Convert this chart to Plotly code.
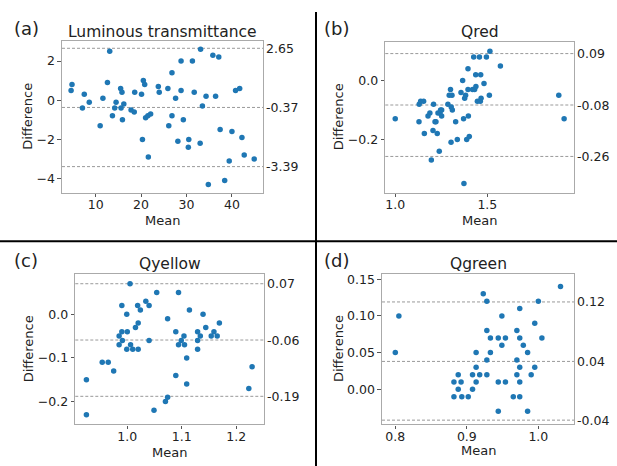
import plotly.graph_objects as go

W, H = 617, 466

# ---------------- data ----------------
a_mean = [4.6, 4.8, 7.1, 7.5, 8.6, 11.0, 11.6, 12.6, 13.1, 13.7, 14.2, 14.5, 15.5, 15.6, 15.8, 15.9, 16.2, 17.8, 18.5, 18.6,
          20.1, 20.3, 20.5, 20.8, 21.0, 21.5, 21.6, 22.1, 23.8, 24.0, 25.9, 26.1, 26.8, 26.8, 27.6, 28.1, 28.8, 28.8, 29.3, 30.4,
          30.5, 31.3, 31.7, 33.0, 33.1, 33.5, 34.3, 34.8, 35.8, 36.4, 37.1, 37.4, 38.4, 39.4, 40.0, 40.8, 41.7, 42.2, 42.7, 44.9]
a_diff = [0.5, 0.8, -0.4, 0.3, -0.1, -1.3, 0.1, 0.9, 2.5, -0.8, -0.4, -0.1, 0.6, -0.4, 0.4, -1.0, -0.2, -0.5, -0.6, 0.4,
          0.3, -2.0, 1.0, 0.8, -0.9, -0.8, -2.9, -0.7, 0.7, 0.4, 0.6, -1.3, 1.4, -0.8, 0.1, -2.1, 2.0, 0.5, -1.0, -2.4,
          -2.0, 2.0, 0.4, -2.2, 2.6, -0.3, 0.2, -4.3, 2.3, 0.2, 2.2, -1.5, -4.1, -3.1, -1.6, 0.5, 0.6, -1.9, -2.8, -3.0]
a_lines = [2.65, -0.37, -3.39]
a_labels = ["2.65", "-0.37", "-3.39"]

b_mean = [1.0, 1.129, 1.13, 1.138, 1.154, 1.158, 1.178, 1.188, 1.196, 1.205, 1.208, 1.216, 1.221, 1.228, 1.232, 1.239, 1.243,
          1.246, 1.252, 1.252, 1.286, 1.293, 1.3, 1.303, 1.308, 1.304, 1.31, 1.328, 1.337, 1.357, 1.366, 1.371, 1.377, 1.373,
          1.382, 1.388, 1.395, 1.395, 1.397, 1.402, 1.42, 1.426, 1.431, 1.437, 1.438, 1.446, 1.457, 1.462, 1.464, 1.466,
          1.482, 1.495, 1.511, 1.514, 1.571, 1.888, 1.917]
b_diff = [-0.13, -0.14, -0.08, -0.07, -0.07, -0.18, -0.12, -0.11, -0.27, -0.17, -0.08, -0.14, -0.14, -0.18, -0.11, -0.24, -0.11,
          -0.10, -0.12, -0.10, -0.08, -0.05, -0.03, -0.21, -0.05, -0.09, -0.10, -0.14, -0.20, -0.04, 0.0, -0.13, -0.06, -0.35,
          -0.05, -0.20, 0.04, -0.03, -0.12, -0.19, -0.03, 0.08, -0.03, 0.02, -0.02, -0.07, 0.08, -0.07, 0.02, -0.06,
          -0.01, 0.08, -0.05, 0.10, 0.05, -0.05, -0.13]
b_lines = [0.092, -0.083, -0.258]
b_labels = ["0.09", "-0.08", "-0.26"]

c_mean = [0.925, 0.925, 0.954, 0.965, 0.975, 0.985, 0.985, 0.99, 0.99, 0.991, 0.999, 1.0, 0.999, 1.005, 1.006, 1.01, 1.015,
          1.019, 1.02, 1.02, 1.024, 1.034, 1.04, 1.04, 1.049, 1.054, 1.07, 1.074, 1.074, 1.089, 1.089, 1.094, 1.094, 1.099,
          1.104, 1.105, 1.109, 1.109, 1.114, 1.129, 1.129, 1.129, 1.134, 1.139, 1.144, 1.154, 1.159, 1.165, 1.169, 1.223, 1.229]
c_diff = [-0.15, -0.23, -0.11, -0.11, -0.13, -0.05, -0.07, 0.02, -0.04, -0.06, 0.0, -0.04, -0.08, 0.07, -0.07, -0.08, -0.03,
          0.02, -0.02, -0.08, 0.01, 0.03, 0.02, -0.06, -0.22, 0.05, -0.20, -0.19, -0.01, -0.04, -0.14, -0.07, 0.05, -0.06,
          -0.05, -0.07, -0.10, -0.16, 0.01, -0.04, -0.06, -0.08, -0.05, 0.0, -0.03, -0.05, -0.04, -0.05, -0.02, -0.17, -0.12]
c_lines = [0.070, -0.059, -0.188]
c_labels = ["0.07", "-0.06", "-0.19"]

d_mean = [0.8, 0.805, 0.882, 0.882, 0.888, 0.888, 0.892, 0.893, 0.902, 0.908, 0.908, 0.913, 0.913, 0.913, 0.918, 0.923,
          0.928, 0.928, 0.928, 0.928, 0.933, 0.933, 0.944, 0.944, 0.944, 0.949, 0.949, 0.954, 0.954, 0.965, 0.97, 0.97,
          0.97, 0.974, 0.974, 0.974, 0.974, 0.974, 0.979, 0.985, 0.985, 0.99, 0.995, 0.995, 1.0, 1.005, 1.031]
d_diff = [0.05, 0.10, 0.01, -0.01, 0.02, 0.0, 0.01, -0.01, -0.01, 0.02, 0.0, 0.05, 0.03, 0.01, 0.02, 0.13, 0.08, 0.12, 0.04,
          0.02, 0.07, 0.05, 0.07, 0.01, -0.03, 0.10, 0.06, 0.07, 0.01, -0.01, 0.08, 0.04, 0.02, 0.11, 0.07, 0.03, 0.01,
          -0.01, 0.06, 0.05, -0.03, 0.02, 0.09, 0.03, 0.12, 0.07, 0.14]
d_lines = [0.119, 0.038, -0.042]
d_labels = ["0.12", "0.04", "-0.04"]

titles = ["Luminous transmittance", "Qred", "Qyellow", "Qgreen"]
panel_tags = ["(a)", "(b)", "(c)", "(d)"]

# ---------------- layout helpers (pixel boxes) ----------------
FONT = "DejaVu Sans"
TXT = "#222222"
FRAME = "#aaaaaa"

def px_x(x):
    return x / W

def px_y(y):
    return 1 - y / H

panels = [
    dict(mean=a_mean, diff=a_diff, lines=a_lines, labels=a_labels,
         box=(62, 263.3, 39, 191.7), xr=[2.6, 46.9], yr=[-4.73, 3.03],
         xt=[10, 20, 30, 40], yt=[-4, -2, 0, 2], xf="d", yf="d",
         tag=(12.5, 26.5), ytitle_x=28, mean_y=219, title_y=30),
    dict(mean=b_mean, diff=b_diff, lines=b_lines, labels=b_labels,
         box=(385.3, 573.7, 40, 191.7), xr=[0.946, 1.969], yr=[-0.382, 0.132],
         xt=[1.0, 1.5], yt=[-0.2, 0.0], xf=".1f", yf=".1f",
         tag=(323, 26.5), ytitle_x=338, mean_y=219, title_y=30),
    dict(mean=c_mean, diff=c_diff, lines=c_lines, labels=c_labels,
         box=(75.3, 264.3, 273.3, 424.3), xr=[0.9046, 1.2514], yr=[-0.2525, 0.092],
         xt=[1.0, 1.1, 1.2], yt=[-0.2, -0.1, 0.0], xf=".1f", yf=".1f",
         tag=(12.5, 259.5), ytitle_x=28, mean_y=452, title_y=263),
    dict(mean=d_mean, diff=d_diff, lines=d_lines, labels=d_labels,
         box=(382, 574.3, 272.7, 424.3), xr=[0.7814, 1.0503], yr=[-0.0479, 0.1577],
         xt=[0.8, 0.9, 1.0], yt=[0.0, 0.05, 0.10, 0.15], xf=".1f", yf=".2f",
         tag=(323, 259.5), ytitle_x=338, mean_y=450.5, title_y=263),
]

fig = go.Figure()
layout = dict(
    width=W, height=H, margin=dict(l=0, r=0, t=0, b=0),
    paper_bgcolor="white", plot_bgcolor="white", showlegend=False,
    font=dict(family=FONT, size=12, color=TXT),
)
shapes = []
annotations = []

for i, p in enumerate(panels):
    n = "" if i == 0 else str(i + 1)
    xa, ya = "x" + n, "y" + n
    l, r, t, b = p["box"]
    fig.add_trace(go.Scatter(
        x=p["mean"], y=p["diff"], mode="markers", xaxis=xa, yaxis=ya,
        marker=dict(color="#1f77b4", size=5.5, line=dict(width=0)),
        hoverinfo="skip"))
    axis_common = dict(showgrid=False, zeroline=False, showline=True, linecolor=FRAME,
                       linewidth=1.2, mirror=True, ticks="outside", ticklen=3.5,
                       tickcolor="#555555", tickwidth=1, tickfont=dict(size=12.5, color=TXT))
    layout["xaxis" + n] = dict(axis_common, domain=[px_x(l), px_x(r)], range=p["xr"],
                               anchor=ya, tickvals=p["xt"], tickformat=p["xf"],
                               ticklabelstandoff=-3)
    layout["yaxis" + n] = dict(axis_common, domain=[px_y(b), px_y(t)], range=p["yr"],
                               anchor=xa, tickvals=p["yt"], tickformat=p["yf"])
    for val, lab in zip(p["lines"], p["labels"]):
        shapes.append(dict(type="line", xref=xa + " domain", yref=ya, x0=0, x1=1, y0=val, y1=val,
                           line=dict(color="#999999", width=1, dash="3px,2px"), layer="below"))
        annotations.append(dict(xref=xa + " domain", yref=ya, x=1, y=val, text=lab, showarrow=False,
                                xanchor="left", yanchor="middle", xshift=1,
                                font=dict(size=12.5, color=TXT)))
    # title
    annotations.append(dict(xref="paper", yref="paper", x=px_x((l + r) / 2), y=px_y(p["title_y"]),
                            text=titles[i], showarrow=False, xanchor="center", yanchor="middle",
                            font=dict(size=15.5, color=TXT)))
    # panel tag
    annotations.append(dict(xref="paper", yref="paper", x=px_x(p["tag"][0]), y=px_y(p["tag"][1]),
                            text=panel_tags[i], showarrow=False, xanchor="left", yanchor="middle",
                            xshift=-1, font=dict(size=18, color=TXT)))
    # axis titles
    annotations.append(dict(xref="paper", yref="paper", x=px_x((l + r) / 2), y=px_y(p["mean_y"]),
                            text="Mean", showarrow=False, xanchor="center", yanchor="middle",
                            font=dict(size=13, color=TXT)))
    annotations.append(dict(xref="paper", yref="paper", x=px_x(p["ytitle_x"]), y=px_y((t + b) / 2),
                            text="Difference", showarrow=False, xanchor="center", yanchor="middle",
                            textangle=-90, font=dict(size=13, color=TXT)))

# separator lines
shapes.append(dict(type="line", xref="paper", yref="paper", x0=px_x(316), x1=px_x(316),
                   y0=px_y(10), y1=0, line=dict(color="black", width=2)))
shapes.append(dict(type="line", xref="paper", yref="paper", x0=0, x1=1,
                   y0=px_y(240.3), y1=px_y(240.3), line=dict(color="black", width=2)))

layout["shapes"] = shapes
layout["annotations"] = annotations
fig.update_layout(**layout)
fig.write_html("out.html")
